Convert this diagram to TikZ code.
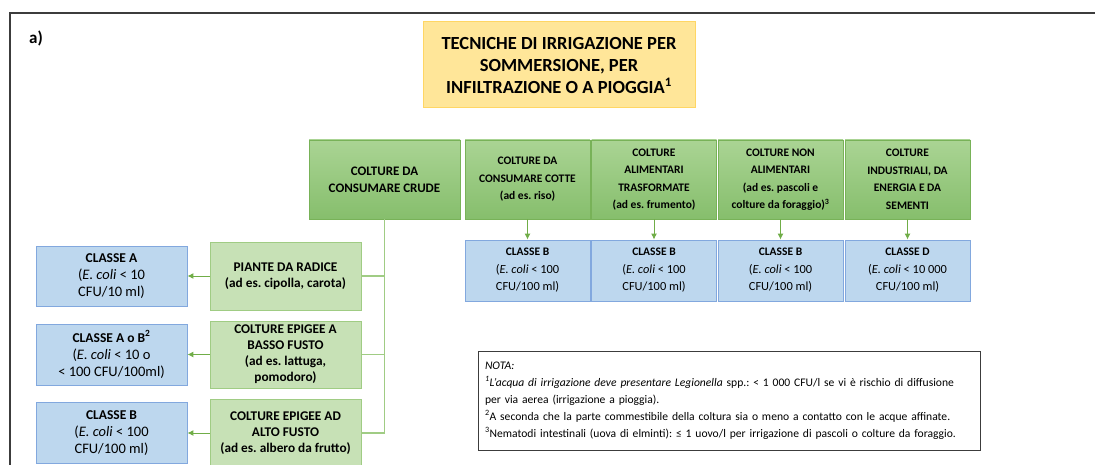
\documentclass[tikz,border=0pt]{standalone}
\usepackage{fontspec}
\setmainfont{Carlito}
\usetikzlibrary{arrows.meta,positioning}
\definecolor{titlefill}{RGB}{255,230,153}
\definecolor{titleline}{RGB}{255,214,100}
\definecolor{gtop}{RGB}{170,212,148}
\definecolor{gbot}{RGB}{134,190,108}
\definecolor{gline}{RGB}{120,178,88}
\definecolor{glight}{RGB}{199,225,182}
\definecolor{glightline}{RGB}{160,204,132}
\definecolor{bfill}{RGB}{189,215,238}
\definecolor{bline}{RGB}{130,168,222}
\definecolor{arrgreen}{RGB}{112,173,71}
\definecolor{framegray}{RGB}{60,60,60}
\newcommand{\bigreg}{\fontsize{14.5}{17}\selectfont}
\frenchspacing
\begin{document}
\begin{tikzpicture}[x=1pt,y=-1pt,
  every node/.style={align=center,inner sep=2pt},
  titlebox/.style={draw=titleline,fill=titlefill,line width=1pt,minimum width=272pt,minimum height=86pt,font=\fontsize{18.5}{22}\selectfont\bfseries},
  cropbox/.style={draw=gline,top color=gtop,bottom color=gbot,line width=0.8pt,minimum width=125pt,minimum height=79pt,font=\fontsize{11.5}{17.5}\selectfont\bfseries},
  subbox/.style={draw=glightline,fill=glight,line width=0.8pt,minimum width=151pt,minimum height=67pt,font=\fontsize{13.3}{16}\selectfont\bfseries},
  classbox/.style={draw=bline,fill=bfill,line width=0.8pt,minimum width=125pt,minimum height=61pt,font=\fontsize{12.4}{17.5}\selectfont},
  leftclass/.style={classbox,minimum width=151pt,node distance=174pt,font=\fontsize{13.5}{17}\selectfont},
  lnk/.style={draw=glightline,line width=1.2pt},
  arr/.style={draw=arrgreen,line width=1pt,-{Latex[length=6pt,width=6pt]}}]
\useasboundingbox (0,0) rectangle (1095,465);
\clip (0,0) rectangle (1095,465);
\draw[framegray,line width=1.6pt] (1100,13) -| (10,470);
\node (lab) at (36,38) {\fontsize{17}{20}\selectfont\bfseries a)};
\node (t) [titlebox] at (559,65) {TECNICHE DI IRRIGAZIONE PER\\SOMMERSIONE, PER\\INFILTRAZIONE O A PIOGGIA\textsuperscript{1}};
% colture
\node (c1) [cropbox,minimum width=151pt,font=\fontsize{13}{17}\selectfont\bfseries] at (384.5,179.5) {COLTURE DA\\CONSUMARE CRUDE};
\node (c2) [cropbox] at (527.5,179.5) {COLTURE DA\\CONSUMARE COTTE\\(ad es. riso)};
\node (c3) [cropbox] at (654,179.5) {COLTURE\\ALIMENTARI\\TRASFORMATE\\(ad es. frumento)};
\node (c4) [cropbox] at (780.5,179.5) {COLTURE NON\\ALIMENTARI\\(ad es. pascoli e\\colture da foraggio)\textsuperscript{3}};
\node (c5) [cropbox] at (907.5,179.5) {COLTURE\\INDUSTRIALI, DA\\ENERGIA E DA\\SEMENTI};
% classi
\node (k2) [classbox,node distance=91pt,below of=c2] {{\fontsize{11.5}{17.5}\selectfont\bfseries CLASSE B}\\(\textit{E. coli} < 100\\CFU/100 ml)};
\node (k3) [classbox,node distance=91pt,below of=c3] {{\fontsize{11.5}{17.5}\selectfont\bfseries CLASSE B}\\(\textit{E. coli} < 100\\CFU/100 ml)};
\node (k4) [classbox,node distance=91pt,below of=c4] {{\fontsize{11.5}{17.5}\selectfont\bfseries CLASSE B}\\(\textit{E. coli} < 100\\CFU/100 ml)};
\node (k5) [classbox,node distance=91pt,below of=c5] {{\fontsize{11.5}{17.5}\selectfont\bfseries CLASSE D}\\(\textit{E. coli} < 10~000\\CFU/100 ml)};
% colture crude
\node (p1) [subbox,minimum height=68pt] at (285.5,276) {PIANTE DA RADICE\\(ad es. cipolla, carota)};
\node (p2) [subbox] at (285.5,354.5) {COLTURE EPIGEE A\\BASSO FUSTO\\(ad es. lattuga,\\pomodoro)};
\node (p3) [subbox] at (285.5,433) {COLTURE EPIGEE AD\\ALTO FUSTO\\(ad es. albero da frutto)};
\node (q1) [leftclass,minimum height=60pt,left of=p1] {\textbf{CLASSE A}\\\bigreg(\textit{E. coli} < 10\\\bigreg CFU/10 ml)};
\node (q2) [leftclass,left of=p2] {\textbf{CLASSE A o B\textsuperscript{2}}\\\bigreg(\textit{E. coli} < 10 o\\\bigreg < 100 CFU/100ml)};
\node (q3) [leftclass,left of=p3] {\textbf{CLASSE B}\\\bigreg(\textit{E. coli} < 100\\\bigreg CFU/100 ml)};
\draw[lnk] (c1.south) |- (p1.east);
\draw[lnk] (c1.south) |- (p2.east);
\draw[lnk] (c1.south) |- (p3.east);
\draw[arr] (p1.west) -- (q1.east);
\draw[arr] (p2.west) -- (q2.east);
\draw[arr] (p3.west) -- (q3.east);
\draw[arr] (c2.south) -- (k2.north);
\draw[arr] (c3.south) -- (k3.north);
\draw[arr] (c4.south) -- (k4.north);
\draw[arr] (c5.south) -- (k5.north);
% nota
\node (nota) [draw=framegray,line width=1pt,minimum width=502pt,minimum height=99pt,text width=488pt,align=left,font=\fontsize{11.6}{17}\selectfont] at (729,400.5) {\textit{NOTA:}\\
\textsuperscript{\textit{1}}\textit{L'acqua di irrigazione deve presentare Legionella} spp.: < 1 000 CFU/l se vi è rischio di diffusione\\
per via aerea (irrigazione a pioggia).\\
\textsuperscript{2}A seconda che la parte commestibile della coltura sia o meno a contatto con le acque affinate.\\
\textsuperscript{3}Nematodi intestinali (uova di elminti): ≤ 1 uovo/l per irrigazione di pascoli o colture da foraggio.};
\end{tikzpicture}
\end{document}
